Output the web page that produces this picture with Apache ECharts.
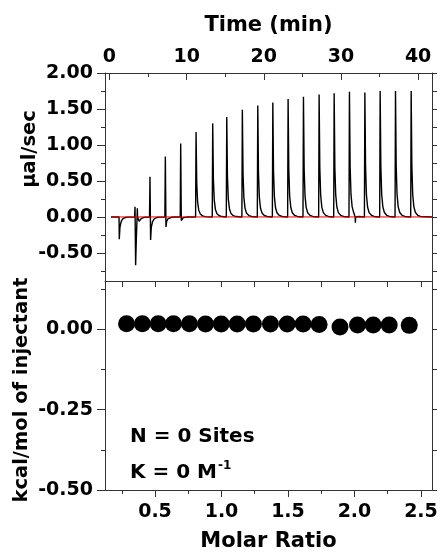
<!DOCTYPE html>
<html>
<head>
<meta charset="utf-8">
<script src="https://cdn.jsdelivr.net/npm/echarts@6/dist/echarts.min.js"></script>
<style>html,body{margin:0;padding:0;background:#fff}#c{width:441px;height:553px}</style>
</head>
<body>
<div id="c"></div>
<script>
// ---------- data ----------
// Raw thermogram (top panel): injection times (min), positive peak heights, negative dips (µcal/sec)
const injTime = [1.27, 3.31, 5.25, 7.24, 9.23, 11.22, 13.38, 15.2, 17.22, 19.22, 21.17, 23.15, 25.14, 27.17, 29.12, 31.1, 33.1, 35.08, 37.07, 39.1];
const injUp   = [0, 0.14, 0.56, 0.84, 1.02, 1.18, 1.30, 1.39, 1.49, 1.55, 1.59, 1.64, 1.67, 1.70, 1.72, 1.74, 1.73, 1.75, 1.75, 1.75];
const injDown = [-0.31, -0.67, -0.32, -0.14, -0.05, 0, 0, 0, 0, 0, 0, 0, 0, 0, 0, 0, 0, 0, 0, 0];
// peak profile: [minutes after injection, fraction of peak height]
const upShape   = [[-0.04, 0], [0, 1], [0.09, 0.4], [0.2, 0.18], [0.35, 0.08], [0.55, 0.035], [0.85, 0.013], [1.2, 0.004]];
const downShape = [[0, 1], [0.09, 0.45], [0.25, 0.2], [0.45, 0.09], [0.72, 0.035], [1.07, 0.01]];
// isolated spikes seen in the trace: [time, value]
const extraSpikes = [[3.61, 0.12], [31.87, -0.08]];
const traceStart = 0.2, traceEnd = 41.8;
const baselineX = [0.2, 41.8];

// Integrated heats (bottom panel)
const molarRatio = [0.286, 0.405, 0.524, 0.639, 0.759, 0.880, 0.998, 1.118, 1.240, 1.368, 1.494, 1.614, 1.734, 1.891, 2.023, 2.141, 2.261, 2.412];
const heat       = [0.017, 0.017, 0.017, 0.017, 0.017, 0.016, 0.016, 0.016, 0.016, 0.016, 0.016, 0.016, 0.015, 0.007, 0.013, 0.013, 0.013, 0.012];

// Tick values
const timeMajor = [0, 10, 20, 30, 40];
const timeMinor = [5, 15, 25, 35];
const rawMajor = [-0.5, 0, 0.5, 1.0, 1.5, 2.0];
const rawMinor = [-0.75, -0.25, 0.25, 0.75, 1.25, 1.75];
const molarMajor = [0.5, 1.0, 1.5, 2.0, 2.5];
const molarMinor = [0.25, 0.75, 1.25, 1.75, 2.25];
const heatMajor = [-0.5, -0.25, 0];
const heatMinor = [-0.375, -0.125, 0.125];

// ---------- build the thermogram trace ----------
const trace = [[traceStart, 0]];
for (let i = 0; i < injTime.length; i++) {
  const t = injTime[i], up = injUp[i], down = injDown[i];
  const segEnd = i + 1 < injTime.length ? injTime[i + 1] - 0.06 : traceEnd;
  let pts = [];
  if (up > 0 && down < 0) {
    pts.push([t - 0.04, 0], [t, up]);
    downShape.forEach(([dt, f]) => pts.push([t + 0.08 + dt, down * f]));
  } else if (up > 0) {
    upShape.forEach(([dt, f]) => pts.push([t + dt, up * f]));
  } else if (down < 0) {
    pts.push([t - 0.03, 0]);
    downShape.forEach(([dt, f]) => pts.push([t + dt, down * f]));
  }
  extraSpikes.forEach(([st, sv]) => {
    if (st > t && st < segEnd) {
      pts = pts.filter(p => Math.abs(p[0] - st) > 0.06);
      pts.push([st - 0.03, 0], [st, sv], [st + 0.03, 0]);
    }
  });
  pts = pts.filter(p => p[0] < segEnd);
  pts.sort((a, b) => a[0] - b[0]);
  pts.push([segEnd, 0]);
  trace.push(...pts);
}

const FONT = 'DejaVu Sans';
const axisColor = '#333';
const tickLbl = { fontFamily: FONT, fontWeight: 'bold', fontSize: 19, color: '#000' };
const line = { show: true, onZero: false, lineStyle: { color: axisColor, width: 1 } };
const noLine = { show: false, onZero: false };

function minorAxis(extra) {
  return Object.assign({
    type: 'value', axisLine: noLine, splitLine: { show: false },
    axisLabel: { show: false }
  }, extra);
}

const chart = echarts.init(document.getElementById('c'), null, { renderer: 'canvas' });
chart.setOption({
  animation: false,
  backgroundColor: '#fff',
  grid: [
    { left: 105, right: 9, top: 73, height: 208 },
    { left: 105, right: 9, top: 281, height: 211 }
  ],
  xAxis: [
    { // 0: time, top
      type: 'value', gridIndex: 0, position: 'top', min: -0.58, max: 41.8,
      axisLine: line,
      axisTick: { show: true, inside: true, length: 7, customValues: timeMajor, lineStyle: { color: axisColor } },
      axisLabel: Object.assign({ customValues: timeMajor, margin: 6 }, tickLbl),
      splitLine: { show: false },
      name: 'Time (min)', nameLocation: 'middle', nameGap: 37,
      nameTextStyle: { fontFamily: FONT, fontWeight: 'bold', fontSize: 21, color: '#000' }
    },
    minorAxis({ gridIndex: 0, position: 'top', min: -0.58, max: 41.8,
      axisTick: { show: true, inside: true, length: 4, customValues: timeMinor, lineStyle: { color: axisColor } } }),
    { // 2: molar ratio, bottom
      type: 'value', gridIndex: 1, position: 'bottom', min: 0.124, max: 2.583,
      axisLine: line,
      axisTick: { show: true, inside: false, length: 7, customValues: molarMajor, lineStyle: { color: axisColor } },
      axisLabel: Object.assign({ customValues: molarMajor, margin: 13, formatter: v => v.toFixed(1) }, tickLbl),
      splitLine: { show: false },
      name: 'Molar Ratio', nameLocation: 'middle', nameGap: 41,
      nameTextStyle: { fontFamily: FONT, fontWeight: 'bold', fontSize: 21, color: '#000' }
    },
    minorAxis({ gridIndex: 1, position: 'bottom', min: 0.124, max: 2.583,
      axisTick: { show: true, inside: false, length: 4, customValues: molarMinor, lineStyle: { color: axisColor } } }),
    { // 4: molar ratio mirror, top of bottom panel
      type: 'value', gridIndex: 1, position: 'top', min: 0.124, max: 2.583,
      axisLine: line,
      axisTick: { show: true, inside: true, length: 6, customValues: molarMinor.concat(molarMajor), lineStyle: { color: axisColor } },
      axisLabel: { show: false }, splitLine: { show: false }
    }
  ],
  yAxis: [
    { // 0: raw, left
      type: 'value', gridIndex: 0, position: 'left', min: -0.89, max: 2.0,
      axisLine: line,
      axisTick: { show: true, inside: false, length: 8, customValues: rawMajor, lineStyle: { color: axisColor } },
      axisLabel: Object.assign({ customValues: rawMajor, margin: 12, formatter: v => v.toFixed(2) }, tickLbl),
      splitLine: { show: false }
    },
    minorAxis({ gridIndex: 0, position: 'left', min: -0.89, max: 2.0,
      axisTick: { show: true, inside: false, length: 4, customValues: rawMinor, lineStyle: { color: axisColor } } }),
    { // 2: raw, right mirror
      type: 'value', gridIndex: 0, position: 'right', min: -0.89, max: 2.0,
      axisLine: line,
      axisTick: { show: true, inside: false, length: 5, customValues: rawMajor.concat(rawMinor), lineStyle: { color: axisColor } },
      axisLabel: { show: false }, splitLine: { show: false }
    },
    { // 3: heat, left
      type: 'value', gridIndex: 1, position: 'left', min: -0.5, max: 0.15,
      axisLine: line,
      axisTick: { show: true, inside: false, length: 8, customValues: heatMajor, lineStyle: { color: axisColor } },
      axisLabel: Object.assign({ customValues: heatMajor, margin: 12, formatter: v => v.toFixed(2) }, tickLbl),
      splitLine: { show: false }
    },
    minorAxis({ gridIndex: 1, position: 'left', min: -0.5, max: 0.15,
      axisTick: { show: true, inside: false, length: 4, customValues: heatMinor, lineStyle: { color: axisColor } } }),
    { // 5: heat, right mirror
      type: 'value', gridIndex: 1, position: 'right', min: -0.5, max: 0.15,
      axisLine: line,
      axisTick: { show: true, inside: false, length: 5, customValues: heatMajor.concat(heatMinor), lineStyle: { color: axisColor } },
      axisLabel: { show: false }, splitLine: { show: false }
    }
  ],
  series: [
    {
      type: 'line', xAxisIndex: 0, yAxisIndex: 0, data: trace, showSymbol: false,
      lineStyle: { color: '#000', width: 1.4 }, z: 2
    },
    {
      type: 'line', xAxisIndex: 0, yAxisIndex: 0, data: baselineX.map(x => [x, 0]), showSymbol: false,
      lineStyle: { color: '#e00000', width: 1 }, z: 3
    },
    {
      type: 'scatter', xAxisIndex: 2, yAxisIndex: 3,
      data: molarRatio.map((m, i) => [m, heat[i]]),
      symbol: 'circle', symbolSize: 17, itemStyle: { color: '#000', opacity: 1 }
    }
  ],
  graphic: [
    { type: 'text', x: 30, y: 149, rotation: Math.PI / 2,
      style: { text: 'µal/sec', font: 'bold 19.5px "DejaVu Sans"', fill: '#000', align: 'center', verticalAlign: 'middle' } },
    { type: 'text', x: 22, y: 390, rotation: Math.PI / 2,
      style: { text: 'kcal/mol of injectant', font: 'bold 19.5px "DejaVu Sans"', fill: '#000', align: 'center', verticalAlign: 'middle' } },
    { type: 'text', x: 130, y: 437,
      style: { text: 'N = 0 Sites', font: 'bold 20px "DejaVu Sans"', fill: '#000', align: 'left', verticalAlign: 'middle' } },
    { type: 'text', x: 130, y: 473,
      style: { text: 'K = 0 M', font: 'bold 20px "DejaVu Sans"', fill: '#000', align: 'left', verticalAlign: 'middle' } },
    { type: 'text', x: 218, y: 466,
      style: { text: '-1', font: 'bold 12px "DejaVu Sans"', fill: '#000', align: 'left', verticalAlign: 'middle' } }
  ]
});
</script>
</body>
</html>
